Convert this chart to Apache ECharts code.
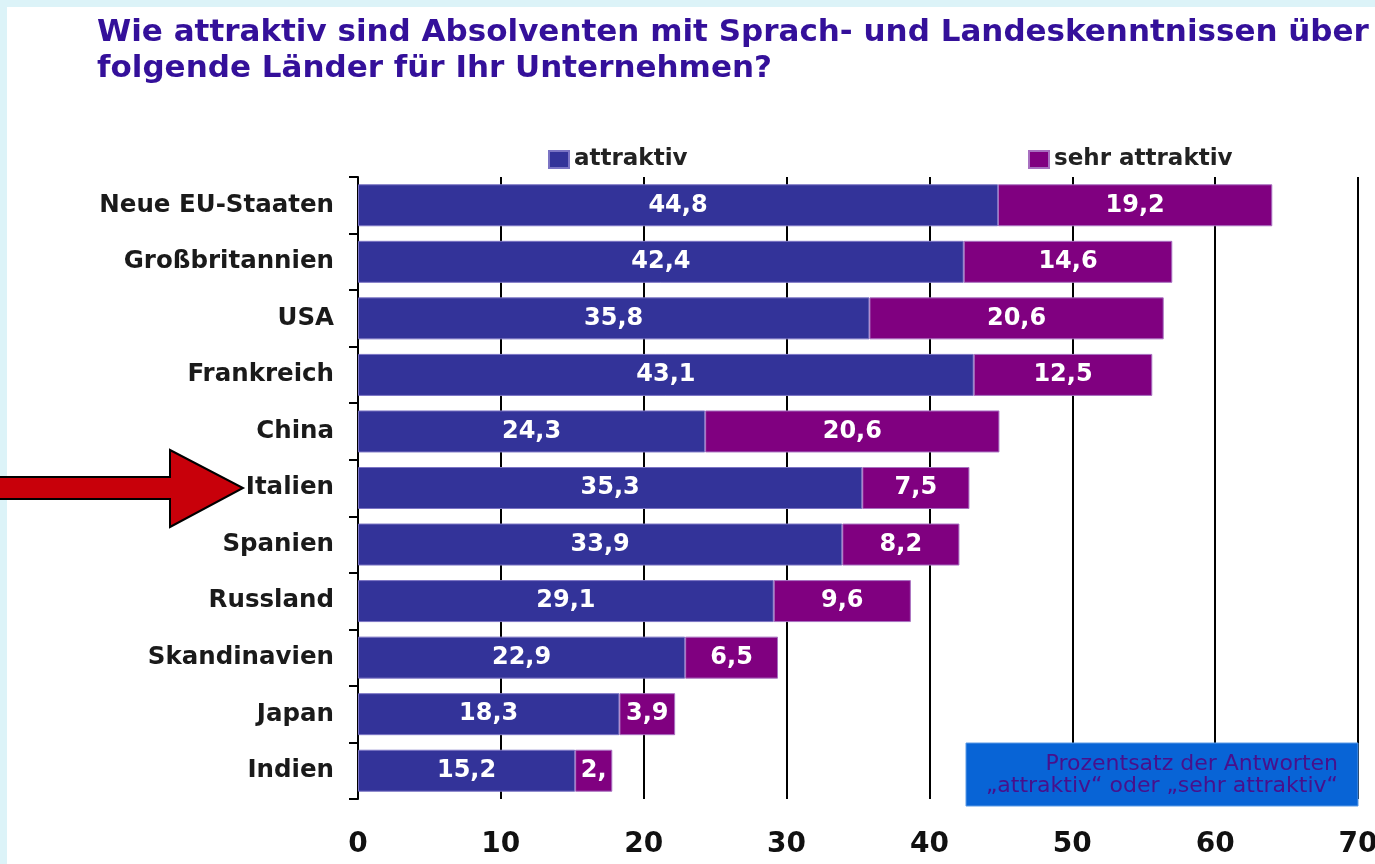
<!DOCTYPE html>
<html><head><meta charset="utf-8">
<script src="https://cdn.jsdelivr.net/npm/echarts@6/dist/echarts.min.js"></script>
<style>html,body{margin:0;padding:0;background:#fff}#c{width:1375px;height:864px}</style>
</head><body><div id="c"></div>
<script>
const categories = ['Neue EU-Staaten','Großbritannien','USA','Frankreich','China','Italien','Spanien','Russland','Skandinavien','Japan','Indien'];
const attraktiv = [44.8,42.4,35.8,43.1,24.3,35.3,33.9,29.1,22.9,18.3,15.2];
const sehrAttraktiv = [19.2,14.6,20.6,12.5,20.6,7.5,8.2,9.6,6.5,3.9,2.6];
const seriesNames = ['attraktiv','sehr attraktiv'];
const xMin = 0, xMax = 70, xStep = 10;
const highlighted = 'Italien';
const titleText = 'Wie attraktiv sind Absolventen mit Sprach- und Landeskenntnissen über\nfolgende Länder für Ihr Unternehmen?';
const noteText = 'Prozentsatz der Antworten\n„attraktiv“ oder „sehr attraktiv“';

const FONT = 'DejaVu Sans';
const gridLeft = 358, gridRight = 17, gridTop = 177, gridBottom = 65;
const pxPerUnit = (1375 - gridLeft - gridRight) / (xMax - xMin);

function items(vals){
  return vals.map(v => ({value: v, label: {width: Math.max(8, v * pxPerUnit - 6), overflow: 'truncate', ellipsis: ''}}));
}
const fmt = p => String(p.value).replace('.', ',');
const labelStyle = {show: true, position: 'inside', color: '#fff', fontWeight: 'bold', fontSize: 24, fontFamily: FONT, formatter: fmt};

const chart = echarts.init(document.getElementById('c'), null, {renderer: 'canvas'});
const legendText = {fontFamily: FONT, fontWeight: 'bold', fontSize: 23, color: '#222'};
const option = {
  backgroundColor: '#ffffff',
  animation: false,
  title: {
    text: titleText, left: 97, top: 15, padding: 0,
    textStyle: {fontFamily: FONT, fontWeight: 'bold', fontSize: 31, lineHeight: 36, color: '#34109a'}
  },
  legend: [
    {data: [seriesNames[0]], left: 548, top: 148, padding: 0, itemWidth: 20, itemHeight: 17, itemGap: 5, icon: 'rect', textStyle: legendText},
    {data: [seriesNames[1]], left: 1028, top: 148, padding: 0, itemWidth: 20, itemHeight: 17, itemGap: 5, icon: 'rect', textStyle: legendText}
  ],
  grid: {left: gridLeft, right: gridRight, top: gridTop, bottom: gridBottom, containLabel: false, outerBoundsMode: 'none'},
  xAxis: {
    type: 'value', min: xMin, max: xMax, interval: xStep,
    axisLine: {show: false}, axisTick: {show: false},
    splitLine: {show: true, lineStyle: {color: '#000', width: 2}},
    axisLabel: {fontFamily: FONT, fontWeight: 'bold', fontSize: 28, color: '#111', margin: 32}
  },
  yAxis: {
    type: 'category', data: categories, inverse: true,
    axisLine: {show: true, lineStyle: {color: '#000', width: 2}},
    axisTick: {show: true, length: 9, lineStyle: {color: '#000', width: 2}},
    axisLabel: {fontFamily: FONT, fontWeight: 'bold', fontSize: 24.5, color: '#1a1a1a', margin: 24},
    splitLine: {show: false}
  },
  series: [
    {name: seriesNames[0], type: 'bar', stack: 'total', barWidth: 42, data: items(attraktiv),
     itemStyle: {color: '#333399', borderColor: '#7b74c4', borderWidth: 1}, label: labelStyle},
    {name: seriesNames[1], type: 'bar', stack: 'total', barWidth: 42, data: items(sehrAttraktiv),
     itemStyle: {color: '#800080', borderColor: '#a870c0', borderWidth: 1}, label: labelStyle}
  ]
};
chart.setOption(option);

const yc = chart.convertToPixel({yAxisIndex: 0}, highlighted);
const tipX = 243;
chart.setOption({
  graphic: [
    {type: 'rect', shape: {x: 0, y: 0, width: 7, height: 864}, style: {fill: '#dcf3f8'}, z: 100},
    {type: 'rect', shape: {x: 0, y: 0, width: 1375, height: 7}, style: {fill: '#dcf3f8'}, z: 100},
    {type: 'rect', shape: {x: 966, y: 743, width: 392, height: 63}, style: {fill: '#0864d6', stroke: '#5b9ae6', lineWidth: 1}, z: 100},
    {type: 'text', x: 1338, y: 753, z: 101,
     style: {text: noteText, align: 'right', verticalAlign: 'top', fontFamily: FONT, fontSize: 22, lineHeight: 22, fill: '#48108c'}},
    {type: 'polygon', z: 102,
     shape: {points: [[-5, yc - 11], [tipX - 73, yc - 11], [tipX - 73, yc - 38], [tipX, yc], [tipX - 73, yc + 39], [tipX - 73, yc + 11], [-5, yc + 11]]},
     style: {fill: '#c8000a', stroke: '#000', lineWidth: 2}}
  ]
});
</script></body></html>
